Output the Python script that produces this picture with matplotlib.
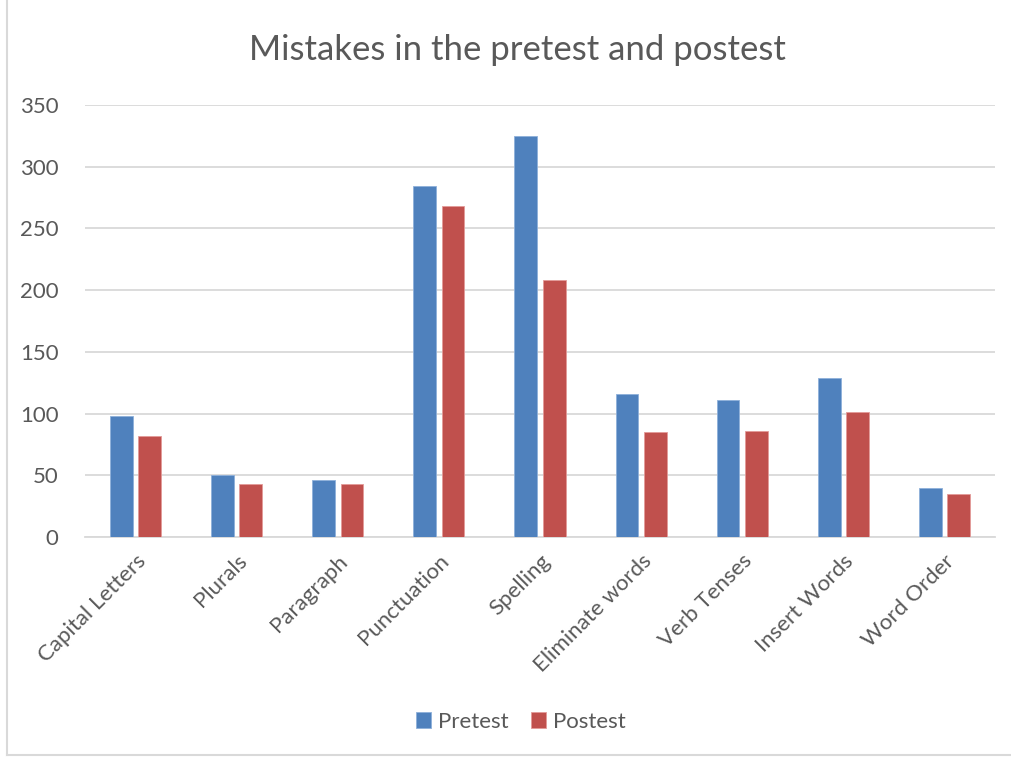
import numpy as np
import matplotlib.pyplot as plt
from matplotlib.lines import Line2D

plt.rcParams['font.family'] = ['Lato', 'DejaVu Sans']

categories = ["Capital Letters", "Plurals", "Paragraph", "Punctuation", "Spelling",
              "Eliminate words", "Verb Tenses", "Insert Words", "Word Order"]
pretest = [98, 50, 46, 284, 325, 116, 111, 129, 40]
postest = [82, 43, 43, 268, 208, 85, 86, 101, 35]

blue = "#4F81BD"
red = "#C0504D"
grid_c = "#D9D9D9"
text_c = "#595959"

fig = plt.figure(figsize=(10.11, 7.58), dpi=100)
ax = fig.add_axes([85 / 1011, 1 - 537 / 758, 910 / 1011, 432 / 758])

x = np.arange(len(categories))
w = 0.225
ax.bar(x - 0.14, pretest, w, color=blue, edgecolor="#8EB0DA", linewidth=0.6, label="Pretest", zorder=3)
ax.bar(x + 0.14, postest, w, color=red, edgecolor="#E39A98", linewidth=0.6, label="Postest", zorder=3)

ax.set_xlim(-0.5, len(categories) - 0.5)
ax.set_ylim(0, 350)
ax.set_yticks(range(0, 351, 50))
ax.grid(axis="y", color=grid_c, linewidth=1.3, zorder=0)
for s in ["top", "right", "left"]:
    ax.spines[s].set_visible(False)
ax.spines["bottom"].set_color(grid_c)
ax.spines["bottom"].set_linewidth(1.3)
ax.tick_params(axis="both", length=0, colors=text_c, labelsize=16)
ax.tick_params(axis="y", pad=19)
ax.set_xticks(x)
ax.set_xticklabels(categories, rotation=45, ha="right", va="top", rotation_mode="anchor")
ax.tick_params(axis="x", pad=10)

fig.text(0.512, 1 - 50 / 758, "Mistakes in the pretest and postest", ha="center", va="center",
         fontsize=25, color=text_c)

fig.legend(loc="center", bbox_to_anchor=(0.515, 1 - 722 / 758), ncol=2, frameon=False,
           fontsize=16, handlelength=0.7, handleheight=0.7, handletextpad=0.3,
           columnspacing=1.0, labelcolor=text_c)

# outer chart border (left and bottom visible in the reference)
fig.add_artist(Line2D([7 / 1011, 7 / 1011], [3 / 758, 1], transform=fig.transFigure,
                      color=grid_c, linewidth=1.5))
fig.add_artist(Line2D([7 / 1011, 1], [3 / 758, 3 / 758], transform=fig.transFigure,
                      color=grid_c, linewidth=1.5))

fig.savefig("out.png", dpi=100, facecolor="white")
